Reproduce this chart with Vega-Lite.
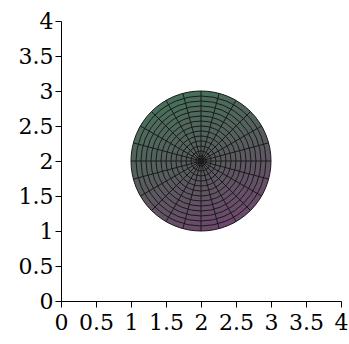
{
  "$schema": "https://vega.github.io/schema/vega-lite/v6.json",
  "width": 280,
  "height": 280,
  "autosize": {"type": "none"},
  "padding": {"left": 61, "top": 21, "right": 8, "bottom": 43},
  "background": "white",
  "config": {
    "view": {"stroke": null},
    "axis": {
      "labelFont": "DejaVu Serif",
      "labelFontSize": 22,
      "labelColor": "black",
      "domainColor": "black",
      "tickColor": "black",
      "domainWidth": 1,
      "tickWidth": 1,
      "tickSize": 6,
      "grid": false,
      "title": null,
      "labelOverlap": false,
      "labelBound": false,
      "labelFlush": false
    }
  },
  "datasets": {
    "disc": [{"r": 1}],
    "rings": [
      {"r": 0.0714}, {"r": 0.1429}, {"r": 0.2143}, {"r": 0.2857}, {"r": 0.3571},
      {"r": 0.4286}, {"r": 0.5}, {"r": 0.5714}, {"r": 0.6429}, {"r": 0.7143},
      {"r": 0.7857}, {"r": 0.8571}, {"r": 0.9286}, {"r": 1}
    ],
    "spokes": [
      {"x": 3, "y": 2, "x2": 1, "y2": 2},
      {"x": 2.9659, "y": 2.2588, "x2": 1.0341, "y2": 1.7412},
      {"x": 2.866, "y": 2.5, "x2": 1.134, "y2": 1.5},
      {"x": 2.7071, "y": 2.7071, "x2": 1.2929, "y2": 1.2929},
      {"x": 2.5, "y": 2.866, "x2": 1.5, "y2": 1.134},
      {"x": 2.2588, "y": 2.9659, "x2": 1.7412, "y2": 1.0341},
      {"x": 2, "y": 3, "x2": 2, "y2": 1},
      {"x": 1.7412, "y": 2.9659, "x2": 2.2588, "y2": 1.0341},
      {"x": 1.5, "y": 2.866, "x2": 2.5, "y2": 1.134},
      {"x": 1.2929, "y": 2.7071, "x2": 2.7071, "y2": 1.2929},
      {"x": 1.134, "y": 2.5, "x2": 2.866, "y2": 1.5},
      {"x": 1.0341, "y": 2.2588, "x2": 2.9659, "y2": 1.7412}
    ]
  },
  "layer": [
    {
      "data": {"name": "disc"},
      "mark": {
        "type": "arc",
        "stroke": null,
        "fill": {
          "gradient": "linear",
          "x1": 0.3, "y1": 0, "x2": 0.7, "y2": 1,
          "stops": [
            {"offset": 0, "color": "#46725a"},
            {"offset": 0.5, "color": "#585d5e"},
            {"offset": 1, "color": "#6f466e"}
          ]
        }
      },
      "encoding": {
        "radius": {"field": "r", "type": "quantitative", "stack": null, "scale": {"type": "linear", "domain": [0, 1], "range": [0, 70], "zero": true}}
      }
    },
    {
      "data": {"name": "rings"},
      "mark": {"type": "arc", "filled": false, "stroke": "#1a1a1a", "strokeWidth": 1, "fill": null},
      "encoding": {
        "radius": {"field": "r", "type": "quantitative", "stack": null, "scale": {"type": "linear", "domain": [0, 1], "range": [0, 70], "zero": true}}
      }
    },
    {
      "data": {"name": "spokes"},
      "mark": {"type": "rule", "color": "#1a1a1a", "strokeWidth": 1},
      "encoding": {
        "x": {"field": "x", "type": "quantitative", "scale": {"domain": [0, 4], "nice": false},
              "axis": {"values": [0, 0.5, 1, 1.5, 2, 2.5, 3, 3.5, 4], "format": "~g", "labelPadding": 5}},
        "y": {"field": "y", "type": "quantitative", "scale": {"domain": [0, 4], "nice": false},
              "axis": {"values": [0, 0.5, 1, 1.5, 2, 2.5, 3, 3.5, 4], "format": "~g", "labelPadding": 2}},
        "x2": {"field": "x2"},
        "y2": {"field": "y2"}
      }
    }
  ]
}
